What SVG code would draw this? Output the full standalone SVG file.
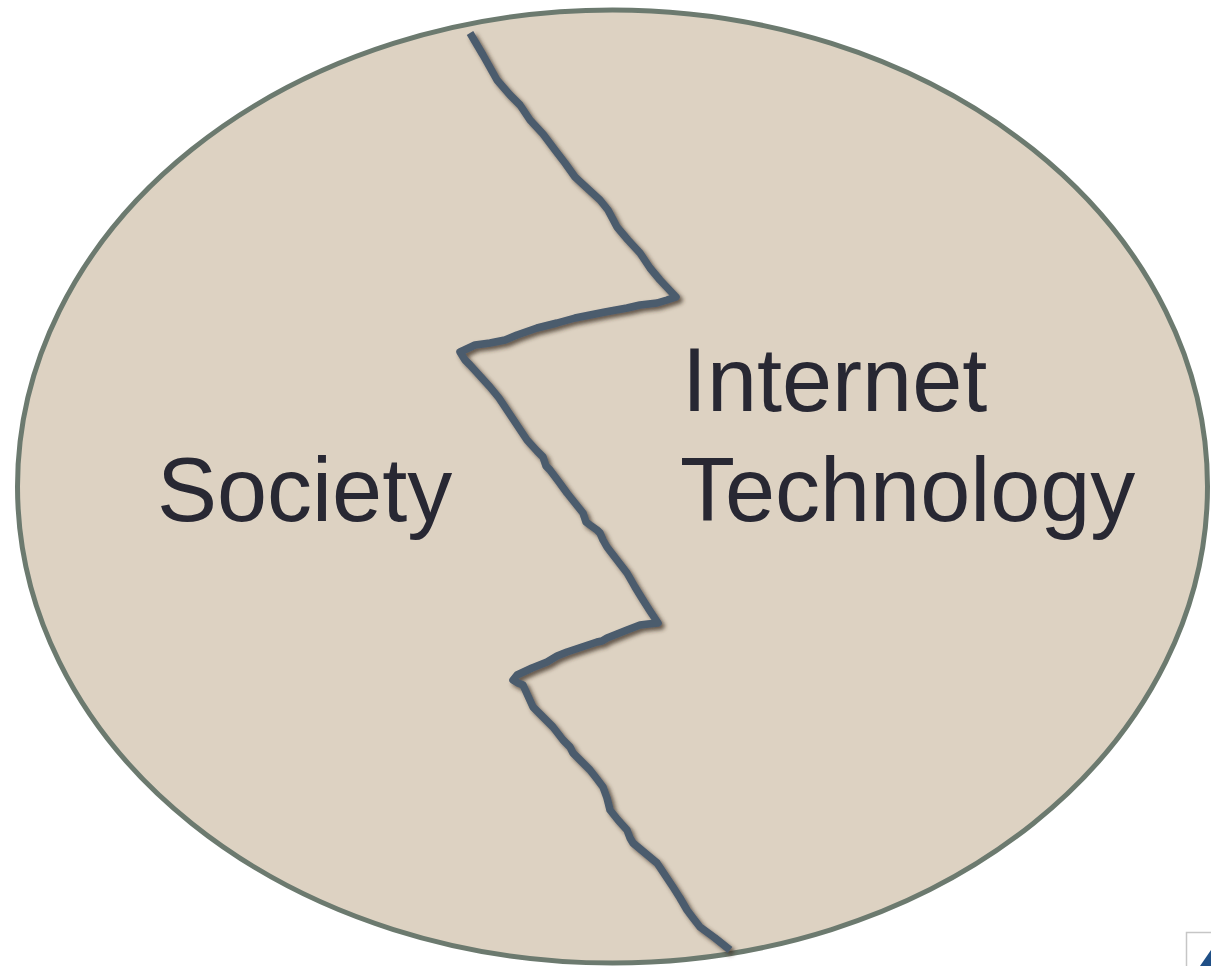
<svg xmlns="http://www.w3.org/2000/svg" width="1211" height="966" viewBox="0 0 1211 966">
  <style>
    .label { font-family: "Liberation Sans", Arial, sans-serif; font-size: 90px; fill: #282833; }
    .crack { fill: none; stroke: #4B5B6D; stroke-width: 7.5; stroke-linejoin: round; stroke-linecap: butt; }
  </style>
  <defs>
    <filter id="shadow" x="-20%" y="-20%" width="140%" height="140%">
      <feDropShadow dx="3" dy="3" stdDeviation="2.2" flood-color="#3a2e22" flood-opacity="0.75"/>
    </filter>
  </defs>
  <rect width="1211" height="966" fill="#ffffff"/>
  <g id="circle">
    <ellipse cx="612.5" cy="486.5" rx="595" ry="476.5" fill="#DDD2C2" stroke="#6C7A6F" stroke-width="5"/>
  </g>
  <g id="connectors">
    <polyline class="crack" filter="url(#shadow)" points="470,33 483,55 497,80 510,95 520,105 530,120 543,134 555,150 565,163 575,177 588,189 600,200 608,210 617,227 628,240 640,253 650,268 660,280 676,297 667,300 657,303 640,305 627,308 605,312 590,315 575,318 557,323 537,328 517,335 505,340 490,343 475,345 460,352 465,360 470,365 480,376 490,387 499,398 507,410 517,425 527,440 537,451 543,457 546,466 550,470 559,482 567,493 575,503 583,513 586,522 590,525 597,530 600,533 603,540 607,547 617,560 627,573 635,587 643,600 650,611 658,623 648,624 640,625 627,630 617,634 607,638 602,641 597,642 582,647 567,652 557,656 547,662 532,668 517,675 513,680 518,683 523,685 528,696 533,707 543,717 553,727 563,740 570,747 573,753 582,762 590,770 597,779 603,787 607,798 610,810 618,820 627,830 630,838 633,843 645,853 657,863 665,875 673,887 680,898 687,910 693,918 700,927 715,938 730,950"/>
  </g>
  <g id="society">
    <text class="label" x="157" y="521">Society</text>
  </g>
  <g id="internet-technology">
    <text class="label" x="682" y="411">Internet</text>
    <text class="label" x="680" y="521">Technology</text>
  </g>
  <g id="corner-icon">
    <rect x="1186.5" y="932.5" width="40" height="40" fill="#ffffff" stroke="#c6c6c6" stroke-width="1.5"/>
    <polygon points="1200,966 1211,950 1211,966" fill="#1f4f86"/>
  </g>
</svg>
